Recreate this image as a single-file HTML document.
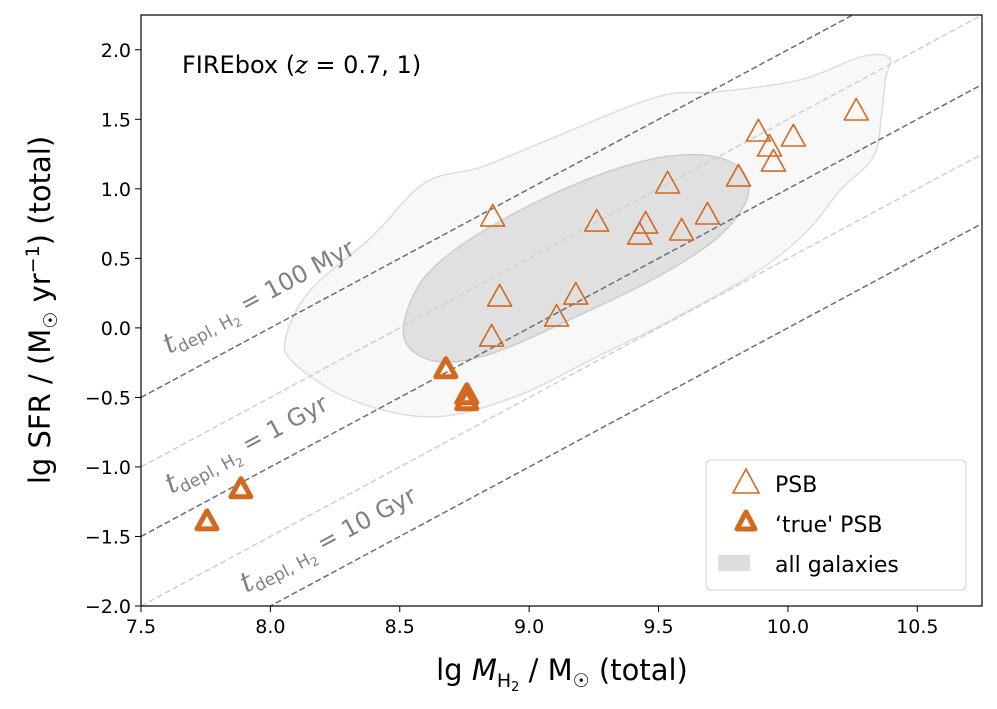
<!DOCTYPE html>
<html><head><meta charset="utf-8"><style>
body{margin:0;background:#fff;}
svg{font-family:"DejaVu Sans","Liberation Sans",sans-serif;}
</style></head><body>
<svg id="chart" width="997" height="704" viewBox="0 0 997 704"></svg>
<script>
const xTicks=[7.5,8.0,8.5,9.0,9.5,10.0,10.5];
const yTicks=[-2.0,-1.5,-1.0,-0.5,0.0,0.5,1.0,1.5,2.0];
const psbX=[8.859,8.886,8.855,9.106,9.180,9.261,9.427,9.450,9.589,9.689,9.535,9.809,9.886,9.929,9.944,10.021,10.264];
const psbY=[0.791,0.216,-0.072,0.072,0.230,0.755,0.662,0.741,0.691,0.806,1.029,1.079,1.403,1.295,1.187,1.367,1.554];
const truePsbX=[8.678,8.759,8.759,7.886,7.755];
const truePsbY=[-0.302,-0.489,-0.532,-1.165,-1.396];
const depletionLogT=[8,8.5,9,9.5,10];
const outerContourX=[8.060,8.156,8.392,8.597,8.817,9.102,9.496,9.732,10.048,10.284,10.392,10.376,10.361,10.330,10.203,10.079,9.890,9.573,9.261,8.944,8.627,8.315,8.091];
const outerContourY=[-0.065,0.273,0.655,1.043,1.158,1.374,1.662,1.698,1.784,1.950,1.942,1.784,1.518,1.230,0.993,0.705,0.417,0.079,-0.209,-0.496,-0.640,-0.518,-0.252];
const innerContourX=[8.519,8.597,8.786,9.102,9.415,9.654,9.809,9.844,9.732,9.496,9.180,8.863,8.658,8.535];
const innerContourY=[0.058,0.367,0.655,0.971,1.187,1.245,1.158,0.942,0.655,0.367,0.079,-0.180,-0.245,-0.137];

const NS='http://www.w3.org/2000/svg';
const svg=document.getElementById('chart');
const L=141,R=982,T=15,B=606;
const X0=7.5,X1=10.75,Y0=-2.0,Y1=2.25;
const sx=v=>L+(v-X0)/(X1-X0)*(R-L);
const sy=v=>B-(v-Y0)/(Y1-Y0)*(B-T);
function mk(tag,attrs,parent){const e=document.createElementNS(NS,tag);for(const k in attrs)e.setAttribute(k,attrs[k]);(parent||svg).appendChild(e);return e;}

const defs=mk('defs',{});
const cp=mk('clipPath',{id:'clip'},defs);mk('rect',{x:L,y:T,width:R-L,height:B-T},cp);
const plot=mk('g',{'clip-path':'url(#clip)'});



function smooth(xs,ys){
  const p=xs.map((x,i)=>[sx(x),sy(ys[i])]);const n=p.length;
  let d='M'+p[0][0].toFixed(1)+','+p[0][1].toFixed(1);
  for(let i=0;i<n;i++){
    const p0=p[(i-1+n)%n],p1=p[i],p2=p[(i+1)%n],p3=p[(i+2)%n];
    const c1=[p1[0]+(p2[0]-p0[0])/6,p1[1]+(p2[1]-p0[1])/6];
    const c2=[p2[0]-(p3[0]-p1[0])/6,p2[1]-(p3[1]-p1[1])/6];
    d+=`C${c1[0].toFixed(1)},${c1[1].toFixed(1)} ${c2[0].toFixed(1)},${c2[1].toFixed(1)} ${p2[0].toFixed(1)},${p2[1].toFixed(1)}`;
  }
  return d+'Z';
}
const oc=mk('path',{d:smooth(outerContourX,outerContourY),fill:'#f8f8f8',stroke:'#dddddd','stroke-width':1.5},plot);


const ic=mk('path',{d:smooth(innerContourX,innerContourY),fill:'#e0e0e0',stroke:'#cccccc','stroke-width':1.5},plot);



depletionLogT.forEach(t=>{
  const dark=Number.isInteger(t);
  const ln=mk('line',{x1:sx(X0),y1:sy(X0-t),x2:sx(X1),y2:sy(X1-t),stroke:dark?'#6e6e6e':'#cfcfcf','stroke-width':1.5,'stroke-dasharray':'6,3'},plot);
  
  
});

const ang=-Math.atan(((B-T)/(Y1-Y0))/((R-L)/(X1-X0)))*180/Math.PI;
[[169,354,'100 Myr'],[171,494,'1 Gyr'],[246,593,'10 Gyr']].forEach(([x,y,s])=>{
  const g=mk('g',{transform:`translate(${x},${y}) rotate(${ang})`,fill:'#808080'});
  
  
  const tx=mk('text',{x:0,y:0,'font-size':24},g);
  tx.innerHTML='<tspan font-family="DejaVu Serif, serif" font-style="italic" font-size="28">t</tspan><tspan font-size="17" dy="5">depl, H</tspan><tspan font-size="12" dy="4">2</tspan><tspan dy="-9"> = '+s+'</tspan>';
});

function tri(cx,cy,s,sw,name){
  const h=s*0.9;
  const p=mk('path',{d:`M${cx},${cy-h*0.62}L${cx+s/2},${cy+h*0.38}L${cx-s/2},${cy+h*0.38}Z`,fill:'none',stroke:'#d2691e','stroke-width':sw,'stroke-linejoin':'round'},plot);
  
  
  return p;
}
psbX.forEach((x,i)=>tri(sx(x),sy(psbY[i]),24,1.6,'psb-marker'));
truePsbX.forEach((x,i)=>tri(sx(x),sy(truePsbY[i]),20,5,'true-psb-marker'));

const fr=mk('rect',{x:L,y:T,width:R-L,height:B-T,fill:'none',stroke:'#000','stroke-width':1.2});



xTicks.forEach(v=>{
  mk('line',{x1:sx(v),y1:B,x2:sx(v),y2:B+6,stroke:'#000','stroke-width':1});
  const t=mk('text',{x:sx(v),y:B+27,'text-anchor':'middle','font-size':19});
  t.textContent=v.toFixed(1);
  
  
});
yTicks.forEach(v=>{
  mk('line',{x1:L-6,y1:sy(v),x2:L,y2:sy(v),stroke:'#000','stroke-width':1});
  const t=mk('text',{x:L-10,y:sy(v)+7,'text-anchor':'end','font-size':19});
  t.textContent=v.toFixed(1).replace('-','\u2212');
  
  
});
</script>
<svg style="position:absolute;left:0;top:0" width="997" height="704">
<text x="182" y="73" font-size="24" font-family="DejaVu Sans,sans-serif">FIREbox (<tspan font-style="italic" font-family="DejaVu Serif,serif">z</tspan> = 0.7, 1)</text>
<text x="562" y="680" text-anchor="middle" font-size="29" font-family="DejaVu Sans,sans-serif">lg <tspan font-style="italic">M</tspan><tspan font-size="19" dy="7">H</tspan><tspan font-size="13" dy="4">2</tspan><tspan dy="-11"> / M</tspan><tspan font-size="19" dy="7">☉</tspan><tspan dy="-7">  (total)</tspan></text>
<text transform="translate(50,310) rotate(-90)" text-anchor="middle" font-size="29" font-family="DejaVu Sans,sans-serif">lg SFR / (M<tspan font-size="19" dy="7">☉</tspan><tspan dy="-7">  yr</tspan><tspan font-size="19" dy="-11">−1</tspan><tspan dy="11">) (total)</tspan></text>
<g font-family="DejaVu Sans,sans-serif" font-size="22">
<rect x="706" y="460" width="260" height="130" rx="5" fill="#fff" fill-opacity="0.85" stroke="#d0d0d0"/>
<path d="M746,469L759,493L733,493Z" fill="none" stroke="#d2691e" stroke-width="1.6"/>
<text x="775" y="492">PSB</text>
<path d="M746,512L755,529L737,529Z" fill="none" stroke="#d2691e" stroke-width="5" stroke-linejoin="round"/>
<text x="775" y="532">‘true' PSB</text>
<rect x="718" y="555" width="32" height="16" fill="#dddddd"/>
<text x="775" y="572">all galaxies</text>
</g>
</svg>
</body></html>
